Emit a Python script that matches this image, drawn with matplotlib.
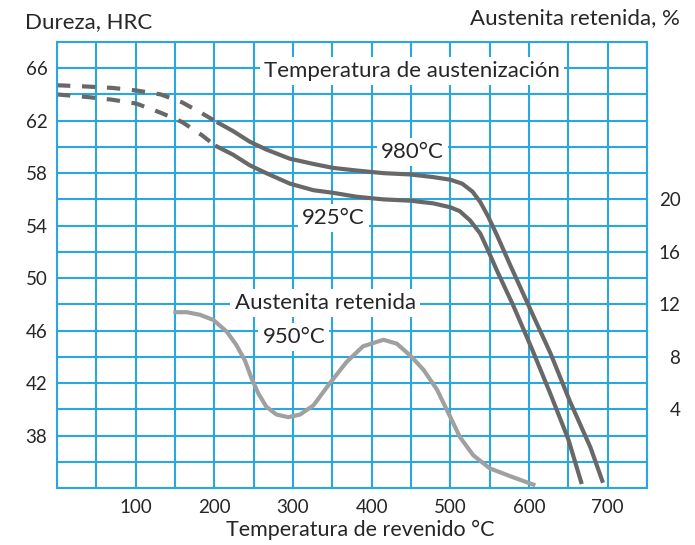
import matplotlib
matplotlib.use("Agg")
import matplotlib.pyplot as plt
import numpy as np

plt.rcParams["font.family"] = ["Lato", "DejaVu Sans"]

GRID_BLUE = "#2aa7df"
DARK_GREY = "#686868"
LIGHT_GREY = "#a0a0a0"
TEXT = "#262626"

# Hardness after tempering, austenitized at 980 °C (dashed part is extrapolated)
temp_980_dash = [0, 39, 70, 101, 132, 159, 186, 203]
hrc_980_dash = [64.7, 64.6, 64.5, 64.3, 64.0, 63.4, 62.5, 61.9]
temp_980 = [203, 224, 245, 266, 296, 326, 351, 381, 415, 449, 478, 500, 515, 528,
            538, 548, 559, 576, 601, 627, 652, 678, 694]
hrc_980 = [61.9, 61.2, 60.4, 59.8, 59.1, 58.7, 58.4, 58.2, 58.0, 57.9, 57.7, 57.5, 57.2, 56.6,
           55.8, 54.7, 53.3, 51.0, 47.7, 44.3, 40.6, 37.1, 34.4]

# Hardness after tempering, austenitized at 925 °C
temp_925_dash = [0, 39, 70, 101, 132, 159, 184, 201]
hrc_925_dash = [64.0, 63.8, 63.6, 63.3, 62.6, 61.9, 60.9, 60.1]
temp_925 = [201, 224, 245, 266, 296, 326, 351, 381, 415, 449, 478, 500, 512, 525,
            538, 548, 559, 580, 603, 627, 650, 667]
hrc_925 = [60.1, 59.4, 58.6, 58.0, 57.2, 56.7, 56.5, 56.2, 56.0, 55.9, 55.7, 55.4, 55.1, 54.4,
           53.4, 52.1, 50.6, 47.9, 44.7, 41.2, 37.7, 34.3]

# Retained austenite (%), austenitized at 950 °C
temp_aust = [148, 165, 182, 199, 216, 228, 239, 247, 256, 266, 279, 294, 309, 326,
             347, 368, 389, 415, 432, 449, 466, 483, 500, 512, 529, 550, 576, 608]
aust_pct = [11.4, 11.4, 11.2, 10.8, 9.9, 8.9, 7.7, 6.4, 5.2, 4.2, 3.6, 3.4, 3.6, 4.3,
            6.0, 7.6, 8.8, 9.3, 9.0, 8.1, 7.0, 5.5, 3.4, 1.9, 0.5, -0.5, -1.1, -1.8]

x_ticks = [100, 200, 300, 400, 500, 600, 700]
hrc_ticks = [38, 42, 46, 50, 54, 58, 62, 66]
aust_ticks = [4, 8, 12, 16, 20]

fig = plt.figure(figsize=(6.95, 5.45), dpi=100)
ax = fig.add_axes([0.082, 0.1046, 0.849, 0.8184])

ax.set_xlim(0, 750)
ax.set_ylim(34, 68)
ax.set_xticks(x_ticks)
ax.set_yticks(hrc_ticks)
ax.set_xticks(np.arange(0, 751, 50), minor=True)
ax.set_yticks(np.arange(34, 69, 2), minor=True)
ax.grid(which="both", color=GRID_BLUE, lw=1.5)
ax.set_axisbelow(True)
ax.tick_params(which="both", length=0, labelsize=13.5, colors=TEXT)
ax.tick_params(axis="x", pad=8)
ax.tick_params(axis="y", pad=7)
for sp in ax.spines.values():
    sp.set_color(GRID_BLUE)
    sp.set_linewidth(1.5)

line_kw = dict(color=DARK_GREY, lw=3, solid_capstyle="butt", solid_joinstyle="round")
dash_kw = dict(color=DARK_GREY, lw=3, dashes=(3.2, 2.8), dash_capstyle="butt",
               dash_joinstyle="round")
ax.plot(temp_980_dash, hrc_980_dash, **dash_kw)
ax.plot(temp_925_dash, hrc_925_dash, **dash_kw)
ax.plot(temp_980, hrc_980, **line_kw)
ax.plot(temp_925, hrc_925, **line_kw)

# Retained austenite on its own scale
ax2 = ax.twinx()
ax2.set_ylim(-2, 32)
ax2.set_yticks(aust_ticks)
ax2.tick_params(length=0, labelsize=13.5, colors=TEXT, pad=24)
for lab in ax2.get_yticklabels():
    lab.set_horizontalalignment("right")
for sp in ax2.spines.values():
    sp.set_visible(False)
ax2.plot(temp_aust, aust_pct, color=LIGHT_GREY, lw=3, solid_capstyle="butt",
         solid_joinstyle="round")

box = dict(facecolor="white", edgecolor="none", pad=3)
ax.text(451, 65.8, "Temperatura de austenización", fontsize=16, color=TEXT,
        ha="center", va="center", bbox=box)
ax.text(452, 59.6, "980°C", fontsize=16, color=TEXT, ha="center", va="center", bbox=box)
ax.text(351, 54.6, "925°C", fontsize=16, color=TEXT, ha="center", va="center", bbox=box)
ax.text(341, 48.1, "Austenita retenida", fontsize=16, color=TEXT,
        ha="center", va="center", bbox=box)
ax.text(301, 45.5, "950°C", fontsize=16, color=TEXT, ha="center", va="center", bbox=box)

fig.text(25 / 695, 1 - 22 / 545, "Dureza, HRC", fontsize=16, color=TEXT,
         ha="left", va="center")
fig.text(680 / 695, 1 - 18 / 545, "Austenita retenida, %", fontsize=16, color=TEXT,
         ha="right", va="center")
fig.text(360 / 695, 1 - 530 / 545, "Temperatura de revenido °C", fontsize=15.5, color=TEXT,
         ha="center", va="center")

fig.savefig("out.png", dpi=100)
